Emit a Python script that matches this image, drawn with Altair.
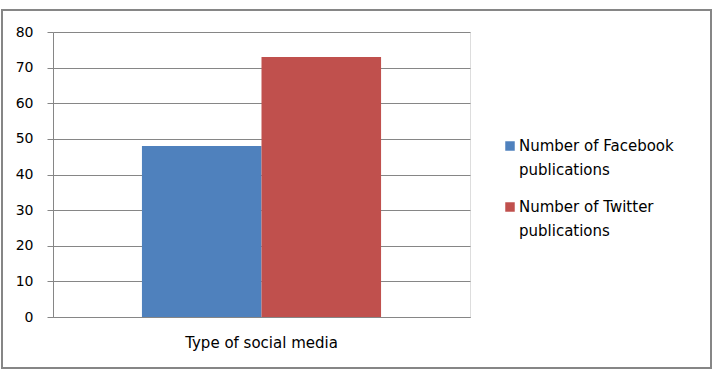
import altair as alt
import pandas as pd

category = ["Type of social media", "Type of social media"]
series = ["Number of Facebook publications", "Number of Twitter publications"]
legend_labels = ["Number of Facebook\npublications", "Number of Twitter\npublications"]
values = [48, 73]
colors = ["#4F81BD", "#C0504D"]
y_ticks = [0, 10, 20, 30, 40, 50, 60, 70, 80]

df = pd.DataFrame({"category": category, "series": series, "value": values,
                   "label": legend_labels})

FONT = "DejaVu Sans"
GRID = "#868686"

bars = alt.Chart(df).mark_bar().encode(
    x=alt.X("category:N", title=None,
            scale=alt.Scale(paddingInner=0, paddingOuter=0.372),
            axis=alt.Axis(labelAngle=0, ticks=False, domainColor=GRID, labelPadding=18,
                          labelFont=FONT, labelFontSize=15, labelColor="#000000")),
    xOffset=alt.XOffset("series:N", scale=alt.Scale(paddingInner=0, paddingOuter=0)),
    y=alt.Y("value:Q", title=None,
            scale=alt.Scale(domain=[0, 80], nice=False),
            axis=alt.Axis(values=y_ticks, grid=True, gridColor=GRID, domainColor=GRID,
                          tickColor=GRID, tickSize=6, labelPadding=14,
                          labelFont=FONT, labelFontSize=14, labelColor="#000000")),
    color=alt.Color("series:N", scale=alt.Scale(domain=series, range=colors), legend=None),
)

legend_y = alt.Y("series:N", axis=None,
                 scale=alt.Scale(type="point", domain=series, range=[114, 175], padding=0))

legend_sq = alt.Chart(df).mark_square(size=90, opacity=1).encode(
    x=alt.value(457),
    y=legend_y,
    color=alt.Color("series:N", scale=alt.Scale(domain=series, range=colors), legend=None),
)

legend_txt = alt.Chart(df).mark_text(align="left", baseline="middle", lineBreak="\n",
                                     lineHeight=24, font=FONT, fontSize=15,
                                     color="#000000").encode(
    x=alt.value(466),
    y=legend_y,
    text="label:N",
)

border = alt.Chart(df).mark_rect(fill=None, stroke=GRID, strokeWidth=2).encode(
    x=alt.value(-51), x2=alt.value(658), y=alt.value(-22), y2=alt.value(336)
)

chart = alt.layer(bars, alt.layer(legend_sq, legend_txt), border).resolve_scale(
    y="independent"
).properties(
    width=417, height=285,
    autosize=alt.AutoSizeParams(type="none"),
    padding={"left": 53, "top": 32, "right": 245, "bottom": 57},
).configure_view(stroke=None).configure(background="white")

chart.save("out.html", embed_options={"renderer": "svg", "actions": False})
